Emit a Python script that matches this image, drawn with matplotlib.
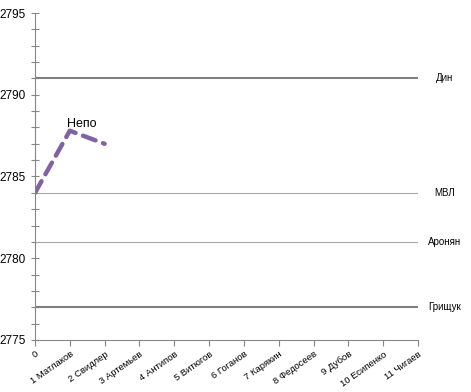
import numpy as np
import matplotlib
matplotlib.use("Agg")
import matplotlib.pyplot as plt
from matplotlib.ticker import MultipleLocator

plt.rcParams['font.family'] = ['Liberation Sans', 'DejaVu Sans']

# data
players = ["0", "1 Матлаков", "2 Свидлер", "3 Артемьев", "4 Антипов", "5 Витюгов",
           "6 Гоганов", "7 Карякин", "8 Федосеев", "9 Дубов", "10 Есипенко", "11 Чигаев"]
ref_names = ["Дин", "МВЛ", "Аронян", "Грищук"]
ref_values = [2791, 2784, 2781, 2777]
nepo_rounds = [0, 1, 2]
nepo_values = [2784, 2787.8, 2787.0]

fig = plt.figure(figsize=(4.71, 3.92), dpi=100)
ax = fig.add_axes([0.0743, 0.1327, 0.8132, 0.8341])

x = np.arange(len(players))
styles = {"Дин": ("#7f7f7f", 1.5), "МВЛ": ("#a6a6a6", 0.8),
          "Аронян": ("#a6a6a6", 0.8), "Грищук": ("#7f7f7f", 1.5)}
for name, val in zip(ref_names, ref_values):
    c, lw = styles[name]
    ax.plot(x, [val] * len(x), color=c, lw=lw)
    ax.annotate(name, (x[-1], val), xytext=(19, 0), textcoords='offset points',
                ha='center', va='center', fontsize=7, annotation_clip=False)

ax.plot(nepo_rounds, nepo_values, color='#8064a2', lw=3.2, dashes=(3, 1.8),
        dash_capstyle='round', solid_capstyle='round')
ax.annotate("Непо", (nepo_rounds[1], nepo_values[1]), xytext=(8.5, 4.5),
            textcoords='offset points', ha='center', va='center', fontsize=9)

ax.set_xlim(0, 11)
ax.set_ylim(2775, 2795)
ax.set_xticks(x)
ax.set_xticklabels(players, rotation=35, ha='right', rotation_mode='anchor',
                   fontsize=6.8)
ax.yaxis.set_major_locator(MultipleLocator(5))
ax.yaxis.set_minor_locator(MultipleLocator(1))
ax.tick_params(axis='y', which='both', direction='inout', length=6, width=0.8,
               color='#868686', labelsize=8.5)
ax.tick_params(axis='x', direction='out', length=4, width=0.8, color='#868686',
               pad=3)
for s in ['top', 'right']:
    ax.spines[s].set_visible(False)
for s in ['left', 'bottom']:
    ax.spines[s].set_color('#868686')
    ax.spines[s].set_linewidth(0.8)

fig.savefig("out.png", dpi=100)
